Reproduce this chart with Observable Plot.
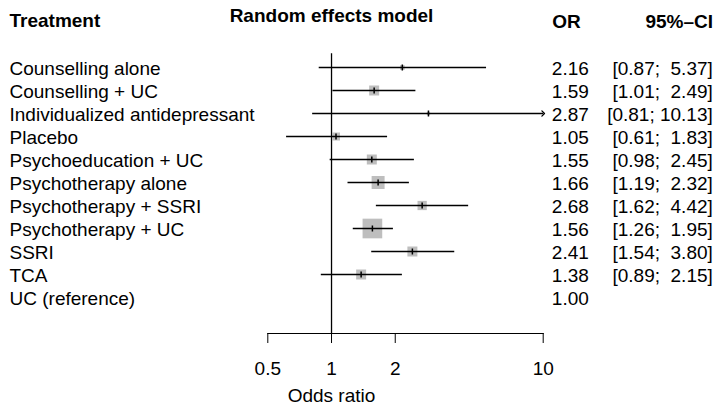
<!DOCTYPE html>
<html><head><meta charset="utf-8">
<script src="https://cdn.jsdelivr.net/npm/d3@7"></script>
<script src="https://cdn.jsdelivr.net/npm/@observablehq/plot@0.6"></script>
<style>
body{margin:0;background:#fff;}
#chart svg{white-space:pre;}
</style>
</head><body><div id="chart"></div>
<script>
const treatments = ["Counselling alone","Counselling + UC","Individualized antidepressant","Placebo","Psychoeducation + UC","Psychotherapy alone","Psychotherapy + SSRI","Psychotherapy + UC","SSRI","TCA","UC (reference)"];
const oddsRatio = [2.16,1.59,2.87,1.05,1.55,1.66,2.68,1.56,2.41,1.38,1.00];
const lower = [0.87,1.01,0.81,0.61,0.98,1.19,1.62,1.26,1.54,0.89,null];
const upper = [5.37,2.49,10.13,1.83,2.45,2.32,4.42,1.95,3.80,2.15,null];
const weights = [22,100,11,64,100,169,86,388,100,100,0];
const headers = ["Treatment","Random effects model","OR","95%\u2013CI"];
const xTicks = [0.5,1,2,10];
const xLabel = "Odds ratio";

const xMax = xTicks[xTicks.length-1];
const rows = treatments.map((name,i)=>({
  name, or: oddsRatio[i], lower: lower[i], upper: upper[i], w: weights[i],
  upClip: upper[i]==null ? null : Math.min(upper[i], xMax),
  orText: oddsRatio[i].toFixed(2),
  ciText: lower[i]==null ? "" : "[" + lower[i].toFixed(2) + "; " + upper[i].toFixed(2).padStart(5,"\u00a0") + "]"
}));
const withCI = rows.filter(d=>d.lower!=null);
const inRange = withCI.filter(d=>d.upper<=xMax);
const clipped = withCI.filter(d=>d.upper>xMax);

const vbar = {draw(ctx, size){ const r = Math.sqrt(size/Math.PI); ctx.moveTo(0,-r); ctx.lineTo(0,r); }};

const FS = 19;
const FONT = "Liberation Sans, Arial, Helvetica, sans-serif";
const mL = 267.3, mR = 171.3, mT = 53.3, mB = 73;
const textDy = 1.5;

const plot = Plot.plot({
  width: 714, height: 406,
  marginLeft: mL, marginRight: mR, marginTop: mT, marginBottom: mB,
  style: {fontFamily: FONT, fontSize: FS+"px", background:"#fff", color:"#000"},
  x: {type:"log", domain:[xTicks[0], xMax]},
  y: {type:"point", domain: treatments, range:[65, 298], padding:0, axis:null},
  r: {range:[0, 11.1]},
  marks: [
    Plot.ruleX([1], {stroke:"#000", strokeWidth:1.3}),
    Plot.frame({anchor:"bottom", stroke:"#000", strokeWidth:1}),
    Plot.axisX({ticks: xTicks, tickFormat: d=>String(d), tickSize:10, tickPadding:18, fontSize:FS, label:null, stroke:"#000"}),
    Plot.dot(rows, {x:"or", y:"name", r:"w", symbol:"square", fill:"#bebebe", stroke:null}),
    Plot.link(inRange, {x1:"lower", x2:"upClip", y1:"name", y2:"name", stroke:"#000", strokeWidth:1.3}),
    Plot.link(clipped, {x1:"lower", x2:"upClip", y1:"name", y2:"name", stroke:"#000", strokeWidth:1.3, markerEnd:"arrow"}),
    Plot.dot(withCI, {x:"or", y:"name", r:3, symbol:vbar, fill:"none", stroke:"#000", strokeWidth:1.5}),
    Plot.text(rows, {y:"name", text:"name", frameAnchor:"left", dx: 9-mL, dy:textDy, textAnchor:"start", lineAnchor:"middle", fontSize:FS, fill:"#000"}),
    Plot.text(rows, {y:"name", text:"orText", frameAnchor:"right", dx: 588.3-(714-mR), dy:textDy, textAnchor:"end", lineAnchor:"middle", fontSize:FS, fill:"#000"}),
    Plot.text(rows, {y:"name", text:"ciText", frameAnchor:"right", dx: 712.3-(714-mR), dy:textDy, textAnchor:"end", lineAnchor:"middle", fontSize:FS, fill:"#000"}),
    Plot.text([headers[0]], {frameAnchor:"top-left", dx: 9-mL, dy: 20-mT, textAnchor:"start", lineAnchor:"middle", fontSize:FS, fontWeight:"bold", fill:"#000"}),
    Plot.text([headers[1]], {frameAnchor:"top", dx: 331-(mL+(714-mR))/2, dy: 15.2-mT, textAnchor:"middle", lineAnchor:"middle", fontSize:FS, fontWeight:"bold", fill:"#000"}),
    Plot.text([headers[2]], {frameAnchor:"top-right", dx: 566-(714-mR), dy: 21.2-mT, textAnchor:"middle", lineAnchor:"middle", fontSize:FS, fontWeight:"bold", fill:"#000"}),
    Plot.text([headers[3]], {frameAnchor:"top-right", dx: 712.5-(714-mR), dy: 21.2-mT, textAnchor:"end", lineAnchor:"middle", fontSize:FS, fontWeight:"bold", fill:"#000"}),
    Plot.text([xLabel], {frameAnchor:"bottom", dx: 331-(mL+(714-mR))/2, dy: 395.5-(406-mB), textAnchor:"middle", lineAnchor:"middle", fontSize:FS, fill:"#000"})
  ]
});
document.getElementById("chart").appendChild(plot);
</script>
</body></html>
